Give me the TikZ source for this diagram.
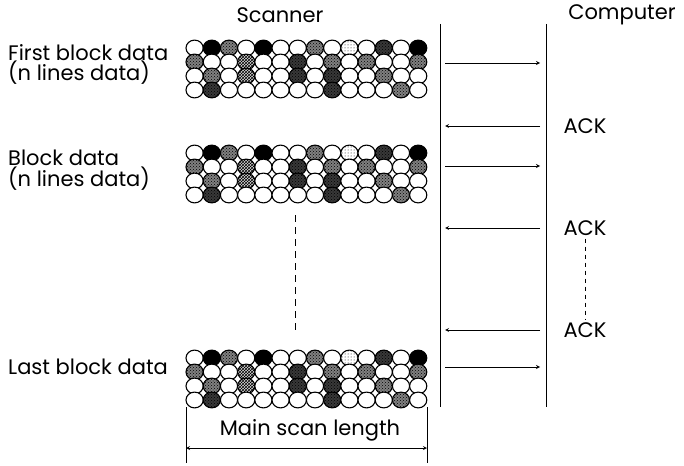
\documentclass[tikz,border=0pt]{standalone}
\usepackage{fontspec}
\setmainfont{Poppins}
\usepackage{tikz}
\usetikzlibrary{shapes,arrows,positioning,patterns}
\newcommand{\labfont}{\fontsize{21}{24}\selectfont}

\begin{document}
\begin{tikzpicture}[x=1pt, y=-1pt,
    cell/.style={ellipse, draw, line width=1.1pt, minimum width=17.2pt,
                 minimum height=15.8pt, inner sep=0pt},
    cell0/.style={cell, fill=white},
    cell1/.style={cell, fill=black},
    cell2/.style={cell, preaction={fill=black!50}, pattern=crosshatch dots},
    cell3/.style={cell, preaction={fill=white}, pattern=dots},
    cell4/.style={cell, preaction={fill=black!78}, pattern=crosshatch dots},
    cell5/.style={cell, preaction={fill=black!15}, pattern=crosshatch},
    label/.style={font=\labfont, anchor=west, inner sep=0pt},
    title/.style={font=\labfont, inner sep=0pt},
    arrow/.style={->, >=stealth, line width=0.8pt},
    lifeline/.style={line width=0.8pt}
]
\useasboundingbox (0,0) rectangle (684,465);

% Titles
\node[title] (scanner) at (280,15) {Scanner};
\node[title] (computer) at (622,15) {Computer};

% Data blocks
\foreach \blk/\ytop in {first/48, mid/153, last/358} {
  \foreach \row/\codes in {0/{0,1,2,0,1,0,0,2,0,3,0,4,0,1},
                           1/{2,0,0,5,0,0,4,0,2,0,2,0,0,2},
                           2/{0,2,0,5,0,0,4,0,4,0,0,2,0,0},
                           3/{0,4,0,0,0,0,0,0,4,0,0,0,2,0}} {
    \foreach \s [count=\c] in \codes {
      \node[cell\s] (\blk-\row-\c) at ({177.4+17.2*\c}, {\ytop+14*\row}) {};
    }
  }
}

% Block labels
\node[label] (firstlab) at (8,53) {First block data};
\node[label] (firstsub) at (8,73) {(n lines data)};
\node[label] (midlab) at (8,158) {Block data};
\node[label] (midsub) at (8,179) {(n lines data)};
\node[label] (lastlab) at (8,367) {Last block data};

% Lifelines
\coordinate (stop) at (440,24);
\coordinate (sbot) at (440,407);
\coordinate (ctop) at (546,24);
\coordinate (cbot) at (546,407);
\draw[lifeline] (stop) -- (sbot);
\draw[lifeline] (ctop) -- (cbot);

% Message ends
\foreach \m/\y in {1/63, 2/126, 3/166, 4/228, 5/330, 6/367} {
  \coordinate (s\m) at (445,\y);
  \coordinate (c\m) at (540,\y);
}

% Data and ACK messages
\draw[arrow] (s1) -- (c1);
\draw[arrow] (c2) -- (s2);
\draw[arrow] (s3) -- (c3);
\draw[arrow] (c4) -- (s4);
\draw[arrow] (c5) -- (s5);
\draw[arrow] (s6) -- (c6);

\node[title] (ack1) at (585,126) {ACK};
\node[title] (ack2) at (585,228) {ACK};
\node[title] (ack3) at (585,330) {ACK};
\draw[dashed, line width=0.8pt, dash pattern=on 4pt off 4pt] ([yshift=-3pt]ack2.south) -- ([yshift=3pt]ack3.north);

% Omitted blocks
\coordinate (gapa) at (295,215);
\coordinate (gapb) at (295,333);
\draw[line width=1pt, dash pattern=on 7pt off 5pt] (gapa) -- (gapb);

% Main scan length
\coordinate (mltop) at (186,407);
\coordinate (mlbot) at (186,463);
\coordinate (mrtop) at (427,407);
\coordinate (mrbot) at (427,463);
\coordinate (ml) at (186,448);
\coordinate (mr) at (427,448);
\draw[lifeline] (mltop) -- (mlbot);
\draw[lifeline] (mrtop) -- (mrbot);
\draw[arrow, <->] (ml) -- (mr);
\node[title] (mainlen) at (310,430) {Main scan length};

\end{tikzpicture}
\end{document}
